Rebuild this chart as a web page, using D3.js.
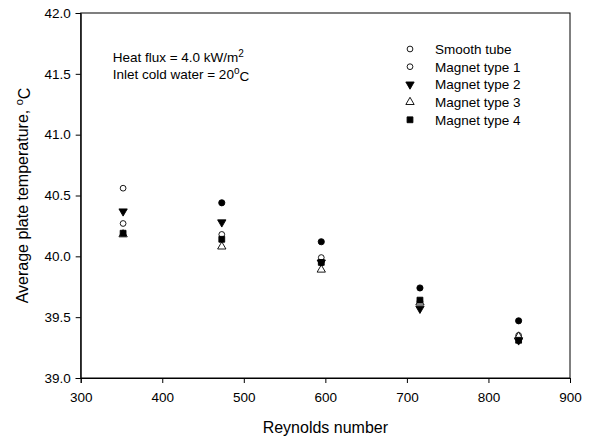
<!DOCTYPE html>
<html>
<head>
<meta charset="utf-8">
<script src="https://cdn.jsdelivr.net/npm/d3@7/dist/d3.min.js"></script>
<style>
  html, body { margin: 0; padding: 0; background: #fff; }
  svg { display: block; font-family: "Liberation Sans", Arial, sans-serif; }
</style>
</head>
<body>
<svg id="chart" width="601" height="443"></svg>
<script>
// Reynolds numbers at which the plate temperature was measured
const reynolds = [352, 473, 595, 716, 837];

// Average plate temperature (°C) for each tube configuration
const smoothTube = [40.56, 40.44, 40.12, 39.74, 39.47];
const magnetType1 = [40.27, 40.18, 39.99, 39.63, 39.35];
const magnetType2 = [40.37, 40.28, 39.95, 39.57, 39.31];
const magnetType3 = [40.18, 40.08, 39.89, 39.62, 39.34];
const magnetType4 = [40.19, 40.14, 39.95, 39.64, 39.31];

// Smooth-tube marker fill per run (first run recorded with hollow symbol)
const smoothFilled = [false, true, true, true, true];

const seriesNames = ["Smooth tube", "Magnet type 1", "Magnet type 2", "Magnet type 3", "Magnet type 4"];

const xTicks = [300, 400, 500, 600, 700, 800, 900];
const yTicks = [39.0, 39.5, 40.0, 40.5, 41.0, 41.5, 42.0];

const svg = d3.select("#chart");
const plotLeft = 80.7, plotRight = 570, plotTop = 13, plotBottom = 378;

const x = d3.scaleLinear().domain([300, 900]).range([plotLeft, plotRight]);
const y = d3.scaleLinear().domain([39, 42]).range([plotBottom, plotTop]);

// Frame
svg.append("rect")
  .attr("x", plotLeft).attr("y", plotTop)
  .attr("width", plotRight - plotLeft).attr("height", plotBottom - plotTop)
  .attr("fill", "none").attr("stroke", "#000").attr("stroke-width", 1);

// Axes
const xAxis = svg.append("g")
  .attr("transform", `translate(0,${plotBottom})`)
  .call(d3.axisBottom(x).tickValues(xTicks).tickSize(5).tickPadding(4).tickFormat(d3.format("d")));
const yAxis = svg.append("g")
  .attr("transform", `translate(${plotLeft},0)`)
  .call(d3.axisLeft(y).tickValues(yTicks).tickSize(5).tickPadding(5).tickFormat(d3.format(".1f")));

[xAxis, yAxis].forEach(g => {
  g.select(".domain").attr("stroke", "#000");
  g.selectAll(".tick line").attr("stroke", "#000");
  g.selectAll(".tick text")
    .attr("fill", "#000")
    .style("font-family", "'Liberation Sans', Arial, sans-serif")
    .style("font-size", "13.5px");
});
xAxis.selectAll(".tick text").attr("dy", "1.1em");

// Axis titles
svg.append("text")
  .attr("x", (plotLeft + plotRight) / 2).attr("y", 433)
  .attr("text-anchor", "middle")
  .style("font-size", "16px")
  .text("Reynolds number");

const yTitle = svg.append("text")
  .attr("transform", `translate(28,${(plotTop + plotBottom) / 2}) rotate(-90)`)
  .attr("text-anchor", "middle")
  .style("font-size", "16px");
yTitle.append("tspan").text("Average plate temperature, ");
yTitle.append("tspan").attr("dy", "-0.45em").style("font-size", "11px").text("o");
yTitle.append("tspan").attr("dy", "0.45em").text("C");

// Annotation
const note1 = svg.append("text").attr("x", 112.7).attr("y", 62).style("font-size", "13.5px");
note1.append("tspan").text("Heat flux = 4.0 kW/m");
note1.append("tspan").attr("dy", "-0.5em").style("font-size", "10px").text("2");

const note2 = svg.append("text").attr("x", 112.7).attr("y", 79).style("font-size", "13.5px");
note2.append("tspan").text("Inlet cold water = 20");
note2.append("tspan").attr("dy", "-0.5em").style("font-size", "10px").text("o");
note2.append("tspan").attr("dy", "0.5em").text("C");

// Marker shapes
const markers = {
  circleOpen: { type: d3.symbolCircle, size: 26, fill: "#fff", stroke: "#000" },
  circleFilled: { type: d3.symbolCircle, size: 30, fill: "#000", stroke: "#000" },
  triDown: { type: d3.symbolTriangle, size: 30, fill: "#000", stroke: "#000", rotate: 180 },
  triUp: { type: d3.symbolTriangle, size: 30, fill: "#fff", stroke: "#000", rotate: 0 },
  square: { type: d3.symbolSquare, size: 34, fill: "#000", stroke: "#000" }
};

function drawMarker(g, m, cx, cy) {
  g.append("path")
    .attr("d", d3.symbol().type(m.type).size(m.size)())
    .attr("transform", `translate(${cx},${cy})${m.rotate ? ` rotate(${m.rotate})` : ""}`)
    .attr("fill", m.fill)
    .attr("stroke", m.stroke)
    .attr("stroke-width", 0.9);
}

const series = [
  { values: smoothTube, marker: i => smoothFilled[i] ? markers.circleFilled : markers.circleOpen },
  { values: magnetType1, marker: () => markers.circleOpen },
  { values: magnetType2, marker: () => markers.triDown },
  { values: magnetType3, marker: () => markers.triUp },
  { values: magnetType4, marker: () => markers.square }
];

const pts = svg.append("g");
series.forEach(s => {
  s.values.forEach((v, i) => drawMarker(pts, s.marker(i), x(reynolds[i]), y(v)));
});

// Legend
const legendMarkers = [markers.circleOpen, markers.circleOpen, markers.triDown, markers.triUp, markers.square];
const legend = svg.append("g");
seriesNames.forEach((name, i) => {
  const ly = 49 + i * 17.7;
  drawMarker(legend, legendMarkers[i], 410, ly);
  legend.append("text")
    .attr("x", 435).attr("y", ly + 5)
    .style("font-size", "13.5px")
    .text(name);
});
</script>
</body>
</html>
